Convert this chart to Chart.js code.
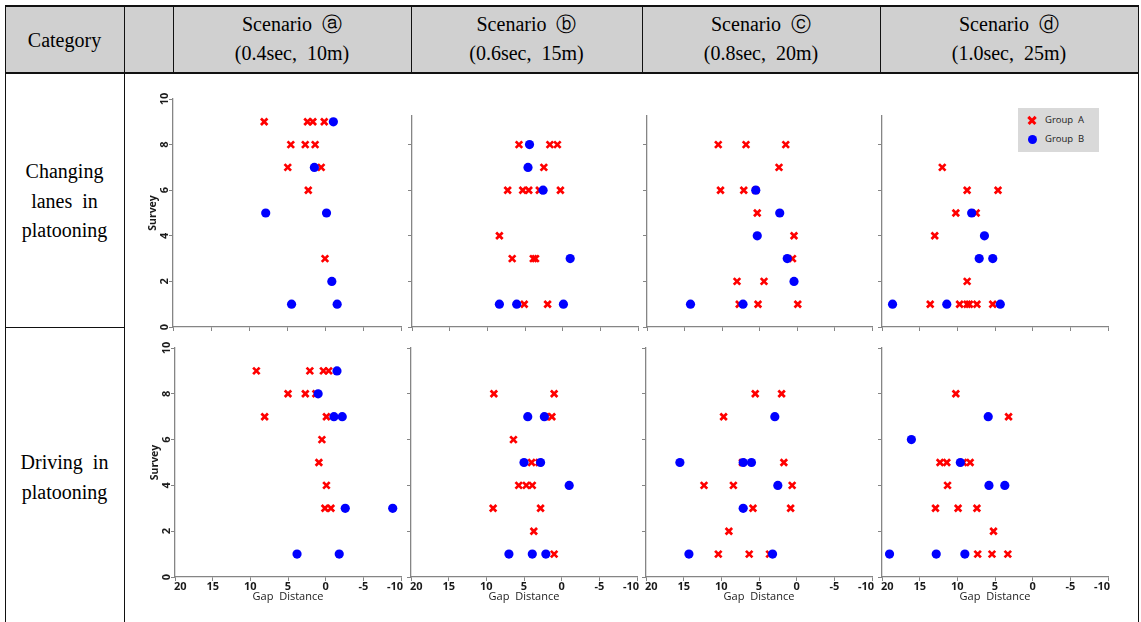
<!DOCTYPE html>
<html>
<head>
<meta charset="utf-8">
<script src="https://cdn.jsdelivr.net/npm/chart.js@4.4.1/dist/chart.umd.min.js"></script>
<style>
  body { margin: 0; background: #fff; width: 1141px; height: 622px; overflow: hidden; position: relative; font-family: "Liberation Serif", "DejaVu Serif", serif; }
  .ln { position: absolute; background: #111; }
  .hd { position: absolute; background: #d0d0d0; }
  .tx { position: absolute; text-align: center; font-size: 20px; line-height: 29px; color: #000; white-space: nowrap; }
  .pn { position: absolute; overflow: hidden; }
  .pn canvas { position: absolute; }
  #legend { position: absolute; left: 1018px; top: 108px; width: 81px; height: 44px; background: #d9d9d9; z-index: 5;
            font-family: "Open Sans", sans-serif; font-size: 9.5px; color: #222; }
  #legend .row { position: absolute; left: 27px; white-space: nowrap; line-height: 12px; }
  .mkA { position: absolute; width: 10px; height: 10px; }
  .mkA::before, .mkA::after { content: ""; position: absolute; left: 0; top: 3.7px; width: 10px; height: 2.6px; background: #ff0000; }
  .mkA::before { transform: rotate(45deg); }
  .mkA::after { transform: rotate(-45deg); }
  .mkB { position: absolute; width: 9px; height: 9px; border-radius: 50%; background: #0000ff; }
</style>
</head>
<body>

<!-- header -->
<div class="hd" style="left:5px;top:6px;width:1133px;height:67px;"></div>
<div class="ln" style="left:5px;top:5px;width:1134px;height:2px;"></div>
<div class="ln" style="left:5px;top:72px;width:1134px;height:1.5px;"></div>
<div class="ln" style="left:5px;top:5px;width:1.3px;height:617px;"></div>
<div class="ln" style="left:124px;top:5px;width:1.2px;height:617px;"></div>
<div class="ln" style="left:1137.5px;top:5px;width:1.3px;height:617px;"></div>
<div class="ln" style="left:173px;top:5px;width:1px;height:68px;"></div>
<div class="ln" style="left:411px;top:5px;width:1px;height:68px;"></div>
<div class="ln" style="left:642px;top:5px;width:1px;height:68px;"></div>
<div class="ln" style="left:880px;top:5px;width:1px;height:68px;"></div>
<div class="ln" style="left:5px;top:326.5px;width:120px;height:1.2px;"></div>

<div class="tx" style="left:5px;top:26px;width:119px;">Category</div>
<div class="tx" style="left:173px;top:10px;width:238px;">Scenario&nbsp; ⓐ<br>(0.4sec,&nbsp; 10m)</div>
<div class="tx" style="left:411px;top:10px;width:231px;">Scenario&nbsp; ⓑ<br>(0.6sec,&nbsp; 15m)</div>
<div class="tx" style="left:642px;top:10px;width:238px;">Scenario&nbsp; ⓒ<br>(0.8sec,&nbsp; 20m)</div>
<div class="tx" style="left:880px;top:10px;width:258px;">Scenario&nbsp; ⓓ<br>(1.0sec,&nbsp; 25m)</div>

<div class="tx" style="left:5px;top:157px;width:119px;line-height:29.5px;">Changing<br>lanes&nbsp; in<br>platooning</div>
<div class="tx" style="left:5px;top:448px;width:119px;line-height:29.5px;">Driving&nbsp; in<br>platooning</div>

<div id="legend">
  <span class="mkA" style="left:9px;top:7px;"></span><span class="row" style="top:6px;">Group&nbsp; A</span>
  <span class="mkB" style="left:9.5px;top:26.5px;"></span><span class="row" style="top:25px;">Group&nbsp; B</span>
</div>

<script>
// axis ticks
const xTicks = [20, 15, 10, 5, 0, -5, -10];
const yTicks = [0, 2, 4, 6, 8, 10];

// [gap distance, survey] - changing lanes in platooning
const laneA_groupA = [[8.0,9],[2.3,9],[1.6,9],[0.1,9],[4.5,8],[2.6,8],[1.3,8],[4.9,7],[0.5,7],[2.2,6],[0.0,3]];
const laneA_groupB = [[-1.1,9],[1.4,7],[7.8,5],[-0.2,5],[-0.9,2],[4.4,1],[-1.6,1]];
const laneB_groupA = [[5.8,8],[1.7,8],[0.7,8],[2.5,7],[7.3,6],[5.3,6],[4.5,6],[3.1,6],[0.3,6],[8.4,4],[6.7,3],[3.9,3],[3.6,3],[5.1,1],[2.0,1]];
const laneB_groupB = [[4.4,8],[4.6,7],[2.6,6],[-1.0,3],[8.4,1],[6.1,1],[-0.1,1]];
const laneC_groupA = [[10.5,8],[6.8,8],[1.5,8],[2.4,7],[10.2,6],[7.1,6],[5.5,6],[5.3,5],[0.4,4],[0.6,3],[8.0,2],[4.4,2],[7.7,1],[5.2,1],[-0.1,1]];
const laneC_groupB = [[5.5,6],[2.3,5],[5.3,4],[1.3,3],[0.4,2],[14.2,1],[7.2,1]];
const laneD_groupA = [[12.0,7],[8.7,6],[4.6,6],[10.2,5],[7.5,5],[13.0,4],[8.7,2],[13.6,1],[9.7,1],[8.7,1],[8.4,1],[7.4,1],[5.3,1]];
const laneD_groupB = [[8.1,5],[6.4,4],[7.1,3],[5.3,3],[18.6,1],[11.4,1],[4.3,1]];

// [gap distance, survey] - driving in platooning
const driveA_groupA = [[9.2,9],[2.1,9],[0.3,9],[-0.4,9],[5.0,8],[2.7,8],[1.3,8],[8.1,7],[-0.1,7],[0.5,6],[0.9,5],[-0.1,4],[0.1,3],[-0.7,3]];
const driveA_groupB = [[-1.5,9],[1.0,8],[-1.1,7],[-2.2,7],[-2.6,3],[-8.9,3],[3.8,1],[-1.8,1]];
const driveB_groupA = [[9.0,8],[1.0,8],[2.1,7],[1.3,7],[6.4,6],[4.0,5],[3.0,5],[5.7,4],[4.7,4],[3.9,4],[9.1,3],[2.8,3],[3.7,2],[1.0,1]];
const driveB_groupB = [[4.5,7],[2.3,7],[5.0,5],[2.8,5],[-1.0,4],[7.0,1],[3.9,1],[2.1,1]];
const driveC_groupA = [[5.5,8],[2.0,8],[9.7,7],[7.2,5],[1.7,5],[12.3,4],[8.4,4],[0.6,4],[5.8,3],[0.8,3],[9.0,2],[10.4,1],[6.3,1],[3.6,1]];
const driveC_groupB = [[2.9,7],[15.5,5],[7.1,5],[6.0,5],[2.5,4],[7.1,3],[14.3,1],[3.2,1]];
const driveD_groupA = [[10.2,8],[3.2,7],[12.3,5],[11.4,5],[9.2,5],[8.3,5],[11.3,4],[12.9,3],[9.9,3],[7.4,3],[5.2,2],[7.3,1],[5.4,1],[3.3,1]];
const driveD_groupB = [[5.9,7],[16.1,6],[9.6,5],[5.8,4],[3.7,4],[19.0,1],[12.8,1],[9.0,1]];

const tickFont = 'bold 11px "Open Sans", sans-serif';

// draws the tick numbers (rotated on y, edge-aligned on x like the source)
const axisTextPlugin = {
  id: 'axisText',
  afterDraw(chart, args, opts) {
    const ctx = chart.ctx;
    const xs = chart.scales.x, ys = chart.scales.y;
    ctx.save();
    ctx.fillStyle = '#1a1a1a';
    ctx.font = tickFont;
    if (opts.x) {
      ctx.textBaseline = 'middle';
      xTicks.forEach((v, i) => {
        const px = xs.getPixelForValue(v);
        let align = 'center', dx = 0;
        if (i === 0) { align = 'left'; dx = -1; }
        else if (i === xTicks.length - 1) { align = 'right'; dx = 2; }
        ctx.textAlign = align;
        ctx.fillText(String(v), px + dx, xs.top + 10);
      });
    }
    if (opts.y) {
      yTicks.forEach(v => {
        const py = ys.getPixelForValue(v);
        ctx.save();
        ctx.translate(ys.right - 8, py);
        ctx.rotate(-Math.PI / 2);
        ctx.textAlign = 'center';
        ctx.textBaseline = 'middle';
        ctx.fillText(String(v), 0, 0);
        ctx.restore();
      });
    }
    ctx.restore();
  }
};

const toPts = arr => arr.map(p => ({ x: p[0], y: p[1] }));

function makePanel(p) {
  const padL = 45, padT = 12, padR = 20, padB = 35;
  const cw = p.right - p.left + padL + padR;
  const ch = p.bottom - p.top + padT + padB;

  const wrap = document.createElement('div');
  wrap.className = 'pn';
  wrap.style.left = p.clip[0] + 'px';
  wrap.style.top = p.clip[1] + 'px';
  wrap.style.width = (p.clip[2] - p.clip[0]) + 'px';
  wrap.style.height = (p.clip[3] - p.clip[1]) + 'px';
  const cv = document.createElement('canvas');
  cv.width = cw; cv.height = ch;
  cv.style.width = cw + 'px'; cv.style.height = ch + 'px';
  cv.style.left = (p.left - padL - p.clip[0]) + 'px';
  cv.style.top = (p.top - padT - p.clip[1]) + 'px';
  wrap.appendChild(cv);
  document.body.appendChild(wrap);

  const axisGray = '#858585';

  new Chart(cv, {
    type: 'scatter',
    data: {
      datasets: [
        { label: 'Group A', data: toPts(p.a), order: 1,
          pointStyle: 'crossRot', pointRadius: 4.6, pointBorderWidth: 2.7,
          pointBorderColor: '#ff0000', pointBackgroundColor: '#ff0000', borderColor: '#ff0000' },
        { label: 'Group B', data: toPts(p.b), order: 0,
          pointStyle: 'circle', pointRadius: 4.6, pointBorderWidth: 0,
          pointBorderColor: '#0000ff', pointBackgroundColor: '#0000ff', borderColor: '#0000ff' }
      ]
    },
    options: {
      responsive: false,
      animation: false,
      devicePixelRatio: 1,
      layout: { padding: { left: 0, top: padT, right: padR, bottom: 0 } },
      plugins: {
        legend: { display: false },
        tooltip: { enabled: false },
        axisText: { x: p.xLabels, y: p.yLabels }
      },
      scales: {
        x: {
          type: 'linear', min: xTicks[xTicks.length - 1], max: xTicks[0], reverse: true,
          ticks: { display: false, stepSize: 5 },
          grid: { drawOnChartArea: false, drawTicks: true, tickLength: 4, color: axisGray },
          border: { color: axisGray, width: 1.3 },
          title: { display: p.xLabels, text: 'Gap  Distance', color: '#1a1a1a',
                   font: { family: '"Open Sans", sans-serif', size: 11 }, padding: { top: 0, bottom: 8.5 } },
          afterFit: s => { s.height = padB; }
        },
        y: {
          type: 'linear', min: yTicks[0], max: yTicks[yTicks.length - 1],
          ticks: { display: false, stepSize: 2 },
          grid: { drawOnChartArea: false, drawTicks: true, tickLength: 4, color: axisGray },
          border: { color: axisGray, width: 1.3 },
          title: { display: p.yLabels, text: 'Survey', color: '#1a1a1a',
                   font: { family: '"Open Sans", sans-serif', size: 10.5, weight: 'bold' }, padding: { top: 19, bottom: 0 } },
          afterFit: s => { s.width = padL; }
        }
      }
    },
    plugins: [axisTextPlugin]
  });
}

// top row: changing lanes
makePanel({ left: 173, right: 401, top: 99, bottom: 327, clip: [128, 80, 406, 332], a: laneA_groupA, b: laneA_groupB, xLabels: false, yLabels: true });
makePanel({ left: 411.7, right: 637.7, top: 99, bottom: 327, clip: [406, 115, 642, 332], a: laneB_groupA, b: laneB_groupB, xLabels: false, yLabels: false });
makePanel({ left: 646.7, right: 872.3, top: 99, bottom: 327, clip: [642, 115, 877, 332], a: laneC_groupA, b: laneC_groupB, xLabels: false, yLabels: false });
makePanel({ left: 882.3, right: 1108.3, top: 99, bottom: 327, clip: [877, 115, 1137, 332], a: laneD_groupA, b: laneD_groupB, xLabels: false, yLabels: false });

// bottom row: driving
makePanel({ left: 175, right: 401, top: 348, bottom: 577, clip: [128, 332, 406, 622], a: driveA_groupA, b: driveA_groupB, xLabels: true, yLabels: true });
makePanel({ left: 411, right: 637.3, top: 348, bottom: 577, clip: [406, 332, 642, 622], a: driveB_groupA, b: driveB_groupB, xLabels: true, yLabels: false });
makePanel({ left: 646, right: 872.3, top: 348, bottom: 577, clip: [642, 332, 877, 622], a: driveC_groupA, b: driveC_groupB, xLabels: true, yLabels: false });
makePanel({ left: 882.3, right: 1108.3, top: 348, bottom: 577, clip: [877, 332, 1137, 622], a: driveD_groupA, b: driveD_groupB, xLabels: true, yLabels: false });
</script>
</body>
</html>
